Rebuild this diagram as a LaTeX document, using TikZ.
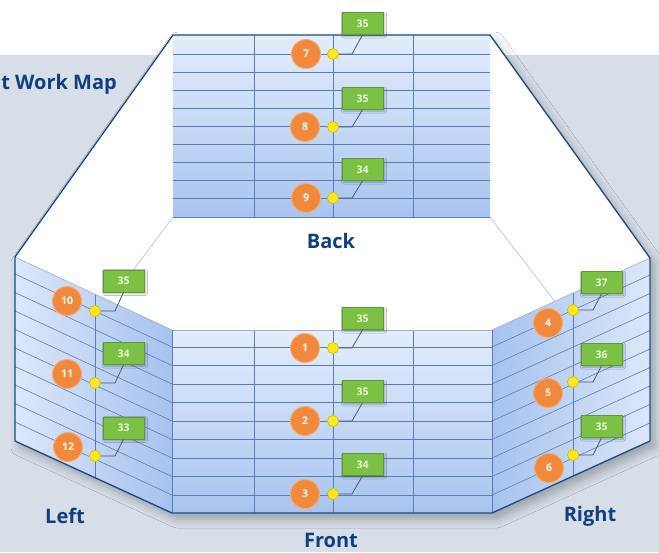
\documentclass[tikz,border=0pt]{standalone}
\usepackage{fontspec}
\setmainfont{Open Sans}
\usetikzlibrary{shadows.blur}
\definecolor{bg}{HTML}{D7DEE7}
\definecolor{navy}{HTML}{0E3F7E}
\definecolor{hexedge}{HTML}{1A4A86}
\definecolor{gridline}{HTML}{5B7DB5}
\definecolor{paneltop}{HTML}{E3EDFB}
\definecolor{panelbot}{HTML}{A8C4EF}
\definecolor{sidelight}{HTML}{DCE7F9}
\definecolor{sidedark}{HTML}{A6C2EE}
\definecolor{boxgreen}{HTML}{7CC144}
\definecolor{boxedge}{HTML}{5C9A34}
\definecolor{boxtext}{HTML}{EAF7DC}
\definecolor{orangec}{HTML}{F0893C}
\definecolor{orangeedge}{HTML}{F6AB70}
\definecolor{dotyellow}{HTML}{FFE81A}
\definecolor{dotedge}{HTML}{C9B400}
\definecolor{linkc}{HTML}{4B5870}
\definecolor{faint}{HTML}{C3CAD2}
\begin{document}
\begin{tikzpicture}[x=1pt,y=-1pt,
  num/.style={circle, fill=orangec, draw=orangeedge, line width=1pt, minimum size=29pt, inner sep=0pt, text=white, font=\bfseries\fontsize{10.5}{10.5}\selectfont},
  valbox/.style={rectangle, fill=boxgreen, draw=boxedge, line width=0.6pt, minimum width=41pt, minimum height=22pt, inner sep=0pt, text=boxtext, font=\bfseries\fontsize{10.5}{10.5}\selectfont, blur shadow={shadow xshift=1.5pt, shadow yshift=-1.5pt, shadow blur radius=2pt, shadow opacity=30}},
  ydot/.style={circle, fill=dotyellow, draw=dotedge, line width=0.4pt, minimum size=11pt, inner sep=0pt},
  lbl/.style={text=navy, font=\bfseries\fontsize{20}{20}\selectfont, inner sep=0pt},
  gl/.style={draw=gridline, line width=0.6pt},
  link/.style={draw=linkc, line width=0.8pt},
  hexline/.style={draw=hexedge, line width=1.3pt, line join=round}
]
\useasboundingbox (0,0) rectangle (659,552);
\fill[white] (0,0) rectangle (659,552);
\fill[bg] (0,55) rectangle (659,552);

% hexagon floor with shadow
\coordinate (h1) at (173,35);
\coordinate (h2) at (490,35);
\coordinate (h3) at (650,258);
\coordinate (h4) at (650,441);
\coordinate (h5) at (492,513);
\coordinate (h6) at (172,513);
\coordinate (h7) at (15,441);
\coordinate (h8) at (15,257);
\fill[white, blur shadow={shadow xshift=5pt, shadow yshift=-6pt, shadow blur radius=9pt, shadow opacity=28}]
  (h1) -- (h2) -- (h3) -- (h4) -- (h5) -- (h6) -- (h7) -- (h8) -- cycle;

% faint floor edges
\coordinate (bbl) at (173,217);
\coordinate (bbr) at (490,217);
\coordinate (fl) at (120,288);
\coordinate (fr) at (556,303);
\draw[faint, line width=0.8pt] (bbl) -- (fl);
\draw[faint, line width=0.8pt] (bbr) -- (fr);

% back panel
\shade[top color=paneltop, bottom color=panelbot] (173,35) rectangle (490,217);
\foreach \k in {0,...,8}{
  \pgfmathsetmacro{\yy}{54+18*\k}
  \draw[gl] (173,\yy) -- (490,\yy);
}
\foreach \xx in {254,333,413}{ \draw[gl] (\xx,35) -- (\xx,217); }
\draw[gl] (173,217) -- (490,217);

% front panel
\shade[top color=paneltop, bottom color=panelbot] (172,330) rectangle (492,513);
\foreach \k in {0,...,8}{
  \pgfmathsetmacro{\yy}{347+18.5*\k}
  \draw[gl] (172,\yy) -- (492,\yy);
}
\foreach \xx in {254,333,413}{ \draw[gl] (\xx,330) -- (\xx,513); }
\draw[gl, draw=gridline!60] (172,330) -- (492,330);

% left panel
\shade[left color=sidelight, right color=sidedark] (15,257) -- (172,330) -- (172,513) -- (15,441) -- cycle;
\foreach \k in {0,...,8}{
  \pgfmathsetmacro{\yy}{347+18.5*\k}
  \pgfmathsetmacro{\yl}{\yy-73}
  \draw[gl] (15,\yl) -- (172,\yy);
}
\draw[gl] (95,294.2) -- (95,477.7);
\draw[gl, draw=gridline!60] (15,257) -- (172,330);

% right panel
\shade[left color=sidedark, right color=sidelight] (492,330) -- (650,258) -- (650,441) -- (492,513) -- cycle;
\foreach \k in {0,...,8}{
  \pgfmathsetmacro{\yy}{347+18.5*\k}
  \pgfmathsetmacro{\yr}{\yy-72}
  \draw[gl] (492,\yy) -- (650,\yr);
}
\draw[gl] (573,293.1) -- (573,476.1);
\draw[gl, draw=gridline!60] (492,330) -- (650,258);
\draw[gl] (172,330) -- (172,513);
\draw[gl] (492,330) -- (492,513);

% hexagon outline
\draw[hexline] (h1) -- (h2) -- (h3) -- (h4) -- (h5) -- (h6) -- (h7) -- (h8) -- cycle;

% back
\node[num] (c7) at (306,54) {7};
\node[num] (c8) at (305,127) {8};
\node[num] (c9) at (306,198) {9};
\node[ydot] (d7) at (333,54) {};
\node[ydot] (d8) at (333,127) {};
\node[ydot] (d9) at (333,198) {};
\node[valbox] (b7) at (362.5,23.5) {35};
\node[valbox] (b8) at (362.5,98.5) {35};
\node[valbox] (b9) at (362.5,169.5) {34};
% front
\node[num] (c1) at (305,348) {1};
\node[num] (c2) at (305,421) {2};
\node[num] (c3) at (305,494) {3};
\node[ydot] (d1) at (333,348) {};
\node[ydot] (d2) at (333,421) {};
\node[ydot] (d3) at (333,494) {};
\node[valbox] (b1) at (362.5,318.5) {35};
\node[valbox] (b2) at (362.5,391.5) {35};
\node[valbox] (b3) at (362.5,464.5) {34};
% left
\node[num] (c10) at (67,301) {10};
\node[num] (c11) at (67,374) {11};
\node[num] (c12) at (68,447) {12};
\node[ydot] (d10) at (95,311) {};
\node[ydot] (d11) at (95,383) {};
\node[ydot] (d12) at (95,456) {};
\node[valbox] (b10) at (123.5,281) {35};
\node[valbox] (b11) at (123.5,353.5) {34};
\node[valbox] (b12) at (123.5,428) {33};
% right
\node[num] (c4) at (548,323) {4};
\node[num] (c5) at (548,393) {5};
\node[num] (c6) at (549,468) {6};
\node[ydot] (d4) at (573,310) {};
\node[ydot] (d5) at (573,382) {};
\node[ydot] (d6) at (573,455) {};
\node[valbox] (b4) at (601.5,282.5) {37};
\node[valbox] (b5) at (601.5,354.5) {36};
\node[valbox] (b6) at (601.5,426.5) {35};

\foreach \i/\xx/\yy in {7/352/54, 8/352/127, 9/352/198, 1/352/348, 2/352/421, 3/352/494,
                       10/115/311, 11/115/383, 12/115/456, 4/593/310, 5/593/382, 6/593/455}{
  \coordinate (k\i) at (\xx,\yy);
  \draw[link] (d\i) -- (k\i) -- (b\i.south);
  \node[ydot] at (d\i) {};
}

% labels
\node[lbl] (lback) at (331,241) {Back};
\node[lbl] (lfront) at (331,540) {Front};
\node[lbl] (lleft) at (65,516) {Left};
\node[lbl] (lright) at (590,516) {Right};
\node[lbl, anchor=east] (ltitle) at (117,84) {t Work Map};
\end{tikzpicture}
\end{document}
